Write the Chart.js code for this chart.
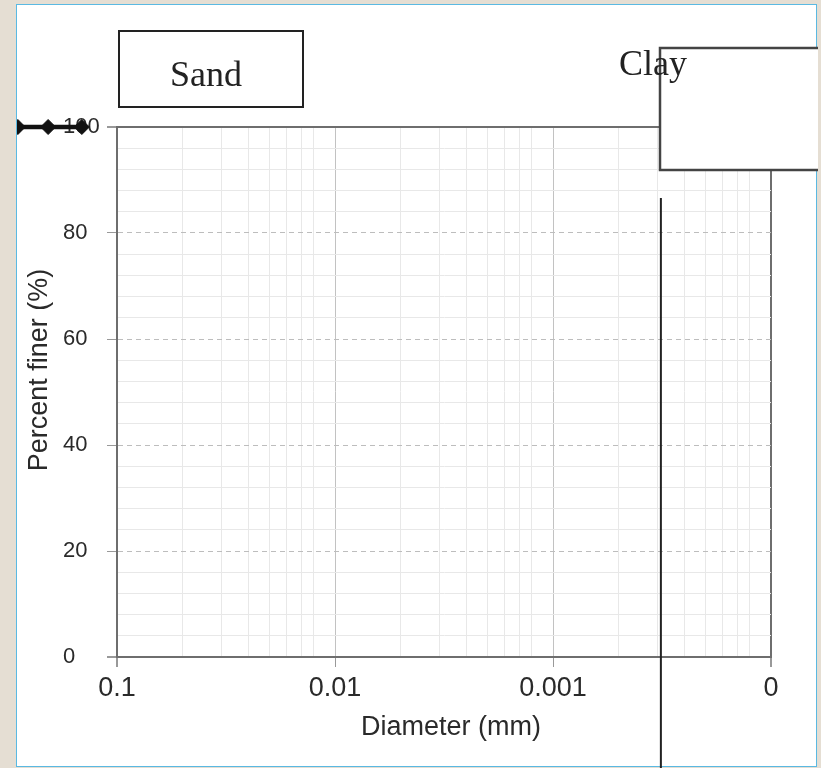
<!DOCTYPE html>
<html>
<head>
<meta charset="utf-8">
<script src="https://cdn.jsdelivr.net/npm/chart.js@4/dist/chart.umd.min.js"></script>
<style>
  html, body { margin: 0; padding: 0; }
  body { width: 821px; height: 768px; background: #e5ded3; position: relative; overflow: hidden; }
  #panel { position: absolute; left: 16px; top: 4px; width: 799px; height: 761px; background: #fff; border: 1px solid #5ab9e2; }
  #grading { position: absolute; left: 17px; top: 0; }
</style>
</head>
<body>
<div id="panel"></div>
<canvas id="grading" width="801" height="768"></canvas>
<script>
// dados da curva granulométrica
const sampleDiameters = [0.6, 0.285, 0.207, 0.145];   // mm
const samplePercentFiner = [100, 100, 100, 100];
// linha divisória da argila
const clayLineDiameters = [0.00032, 0.00032];
const clayLinePercent = [86.6, -25];

// eixos
const xMajorTicks = [0.1, 0.01, 0.001, 0.0001];
const xTickLabels = ['0.1', '0.01', '0.001', '0'];
const xMinorDivisors = [2, 3, 4, 5, 6, 7, 8];
const yMajorTicks = [0, 20, 40, 60, 80, 100];

const FRAME = '#6e6e6e';
const sans = "'Liberation Sans', Arial, sans-serif";
const serif = "'Liberation Serif', 'Times New Roman', serif";

const xGridValues = [];
xMajorTicks.forEach((d, i) => {
    xGridValues.push(d);
    if (i < xMajorTicks.length - 1) xMinorDivisors.forEach(k => xGridValues.push(d / k));
});

const isXMajor = v => xMajorTicks.includes(v);
const isXFrame = v => v === xMajorTicks[0] || v === xMajorTicks[xMajorTicks.length - 1];
const isYMajor = v => yMajorTicks.includes(v);
const isYFrame = v => v === yMajorTicks[0] || v === yMajorTicks[yMajorTicks.length - 1];

// os pontos ficam fora da área do gráfico, então são redesenhados sem recorte
const offAreaPoints = {
    id: 'offAreaPoints',
    afterDatasetsDraw(chart) {
        const wide = { left: -1e4, right: 1e4, top: -1e4, bottom: 1e4 };
        chart.getDatasetMeta(0).data.forEach(p => p.draw(chart.ctx, wide));
    }
};

// caixas de texto e títulos dos eixos
const annotations = {
    id: 'annotations',
    afterDatasetsDraw(chart) {
        const c = chart.ctx;
        c.save();
        c.lineWidth = 2;
        c.strokeStyle = '#222';
        c.strokeRect(102, 31, 184, 76);
        c.fillStyle = '#222';
        c.font = '36px ' + serif;
        c.textAlign = 'center';
        c.textBaseline = 'alphabetic';
        c.fillText('Sand', 189, 86);

        c.fillStyle = '#fff';
        c.fillRect(643, 48, 170, 122);
        c.lineWidth = 2.5;
        c.strokeStyle = '#444';
        c.strokeRect(643, 48, 170, 122);
        c.fillStyle = '#222';
        c.textAlign = 'left';
        c.fillText('Clay', 602, 75);

        c.fillStyle = '#2a2a2a';
        c.font = '27px ' + sans;
        c.textAlign = 'center';
        c.textBaseline = 'middle';
        c.fillText('Diameter (mm)', 434, 728);
        c.translate(23, 370);
        c.rotate(-Math.PI / 2);
        c.fillText('Percent finer (%)', 0, 0);
        c.restore();
    }
};

const ctx = document.getElementById('grading').getContext('2d');

new Chart(ctx, {
    type: 'scatter',
    data: {
        datasets: [{
            data: sampleDiameters.map((d, i) => ({ x: d, y: samplePercentFiner[i] })),
            showLine: true,
            borderColor: '#111',
            borderWidth: 4.5,
            pointStyle: 'rectRot',
            pointRadius: 7.5,
            pointBorderWidth: 1,
            pointBackgroundColor: '#111',
            pointBorderColor: '#111',
            clip: false
        }, {
            data: clayLineDiameters.map((d, i) => ({ x: d, y: clayLinePercent[i] })),
            showLine: true,
            borderColor: '#222',
            borderWidth: 2,
            pointRadius: 0,
            clip: false
        }]
    },
    options: {
        responsive: false,
        animation: false,
        layout: { padding: { left: 46, right: 47, top: 127, bottom: 0 } },
        plugins: {
            legend: { display: false },
            tooltip: { enabled: false }
        },
        scales: {
            x: {
                type: 'logarithmic',
                reverse: true,
                min: 0.0001,
                max: 0.1,
                afterBuildTicks: scale => { scale.ticks = xGridValues.map(v => ({ value: v })); },
                afterFit: scale => { scale.height = 111; },
                ticks: {
                    autoSkip: false,
                    maxRotation: 0,
                    padding: 5,
                    color: '#2a2a2a',
                    font: { family: sans, size: 27 },
                    callback: v => {
                        const i = xMajorTicks.indexOf(v);
                        return i >= 0 ? xTickLabels[i] : '';
                    }
                },
                grid: {
                    tickLength: 10,
                    color: c => isXFrame(c.tick.value) ? FRAME : (isXMajor(c.tick.value) ? '#c2c2c2' : '#e8e8e8'),
                    lineWidth: c => isXFrame(c.tick.value) ? 2 : 1,
                    tickColor: c => isXMajor(c.tick.value) ? '#999' : 'rgba(0,0,0,0)'
                },
                border: { color: FRAME, width: 2 }
            },
            y: {
                min: 0,
                max: 100,
                afterFit: scale => { scale.width = 54; },
                ticks: {
                    stepSize: 4,
                    autoSkip: false,
                    crossAlign: 'far',
                    color: '#2a2a2a',
                    font: { family: sans, size: 22 },
                    callback: v => isYMajor(v) ? String(v) : ''
                },
                grid: {
                    tickLength: 10,
                    color: c => isYFrame(c.tick.value) ? FRAME : (isYMajor(c.tick.value) ? '#bdbdbd' : '#e8e8e8'),
                    lineWidth: c => isYFrame(c.tick.value) ? 2 : 1,
                    tickColor: c => isYMajor(c.tick.value) ? '#999' : 'rgba(0,0,0,0)'
                },
                border: {
                    color: FRAME,
                    width: 2,
                    dash: c => (c.tick && isYMajor(c.tick.value) && !isYFrame(c.tick.value)) ? [5, 4] : []
                }
            }
        }
    },
    plugins: [offAreaPoints, annotations]
});
</script>
</body>
</html>
